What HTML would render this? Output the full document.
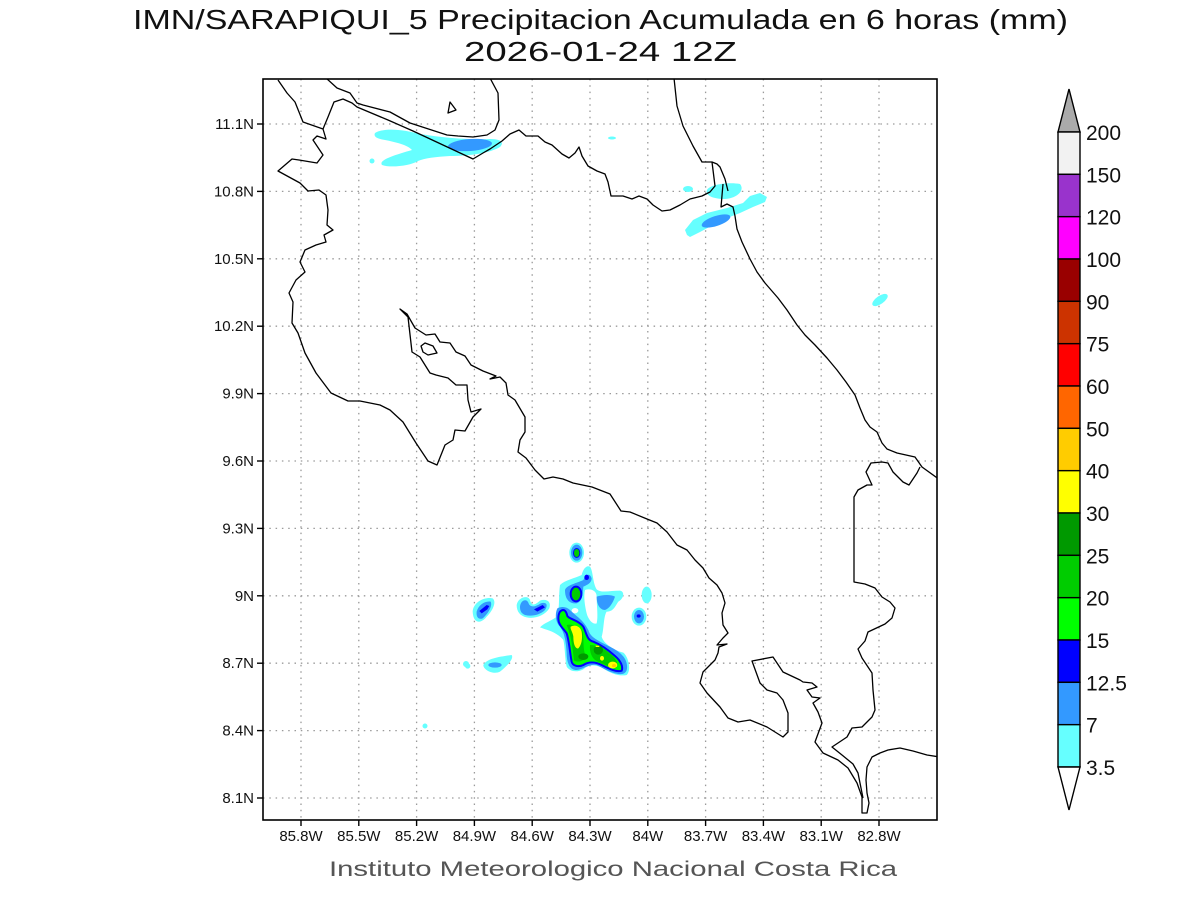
<!DOCTYPE html>
<html>
<head>
<meta charset="utf-8">
<style>
html,body{margin:0;padding:0;background:#fff;}
svg{display:block;}
text{font-family:"Liberation Sans",sans-serif;}
</style>
</head>
<body>
<svg width="1200" height="900" viewBox="0 0 1200 900" xmlns="http://www.w3.org/2000/svg">
<rect x="0" y="0" width="1200" height="900" fill="#fff"/>

<!-- Title -->
<text x="133" y="29" font-size="28" fill="#111" textLength="935" lengthAdjust="spacingAndGlyphs">IMN/SARAPIQUI_5 Precipitacion Acumulada en 6 horas (mm)</text>
<text x="464" y="61" font-size="28" fill="#111" textLength="273" lengthAdjust="spacingAndGlyphs">2026-01-24 12Z</text>

<defs>
<clipPath id="plot"><rect x="263" y="79" width="674" height="741"/></clipPath>
</defs>

<g clip-path="url(#plot)">
<!-- grid -->
<g stroke="#9a9a9a" stroke-width="1.3" stroke-dasharray="1.5 4.8" fill="none">
<line x1="263" y1="124" x2="937" y2="124"/>
<line x1="263" y1="191.4" x2="937" y2="191.4"/>
<line x1="263" y1="258.8" x2="937" y2="258.8"/>
<line x1="263" y1="326.2" x2="937" y2="326.2"/>
<line x1="263" y1="393.6" x2="937" y2="393.6"/>
<line x1="263" y1="461" x2="937" y2="461"/>
<line x1="263" y1="528.4" x2="937" y2="528.4"/>
<line x1="263" y1="595.8" x2="937" y2="595.8"/>
<line x1="263" y1="663.2" x2="937" y2="663.2"/>
<line x1="263" y1="730.6" x2="937" y2="730.6"/>
<line x1="263" y1="798" x2="937" y2="798"/>
<line x1="301" y1="79" x2="301" y2="820"/>
<line x1="358.8" y1="79" x2="358.8" y2="820"/>
<line x1="416.6" y1="79" x2="416.6" y2="820"/>
<line x1="474.4" y1="79" x2="474.4" y2="820"/>
<line x1="532.2" y1="79" x2="532.2" y2="820"/>
<line x1="590" y1="79" x2="590" y2="820"/>
<line x1="647.8" y1="79" x2="647.8" y2="820"/>
<line x1="705.6" y1="79" x2="705.6" y2="820"/>
<line x1="763.4" y1="79" x2="763.4" y2="820"/>
<line x1="821.2" y1="79" x2="821.2" y2="820"/>
<line x1="879" y1="79" x2="879" y2="820"/>
</g>

<!-- North precipitation -->
<path d="M375,133 C385,127 405,130 420,134 C445,138 470,140 490,139 C500,139 505,142 500,147 C490,153 470,156 450,156 C435,157 425,158 418,161 C410,166 390,168 382,165 C378,160 395,155 412,150 C408,145 395,142 385,140 C378,139 373,137 375,133 Z" fill="#66ffff"/>
<ellipse cx="470" cy="145" rx="22" ry="6" transform="rotate(-4 470 145)" fill="#3399ff"/>
<circle cx="372" cy="161" r="2.5" fill="#66ffff"/>
<ellipse cx="612" cy="138" rx="4" ry="1.5" fill="#66ffff"/>

<!-- NE precipitation -->
<ellipse cx="688" cy="189" rx="5" ry="3" fill="#66ffff"/>
<path d="M707,190 C710,184 730,182 740,184 C745,190 738,198 725,199 C712,199 705,195 707,190 Z" fill="#66ffff"/>
<path d="M687,235 L685,230 L693,220 L707,213 L727,208 L743,203 L750,196 L760,193 L767,197 L765,202 L753,207 L740,213 L727,218 L713,225 L700,232 L690,237 Z" fill="#66ffff"/>
<ellipse cx="716" cy="221" rx="15" ry="5" transform="rotate(-18 716 221)" fill="#3399ff"/>
<ellipse cx="880" cy="300" rx="9" ry="4" transform="rotate(-35 880 300)" fill="#66ffff"/>

<!-- scattered dots -->
<circle cx="466" cy="664" r="3" fill="#66ffff"/>
<circle cx="425" cy="726" r="2.5" fill="#66ffff"/>

<!-- Central cluster (in zoom coordinates) -->
<g transform="translate(450,530) scale(0.33333)">
  <!-- L1 -->
  <path d="M68,245 C70,215 105,200 128,205 C140,215 130,240 110,260 C95,280 70,285 68,245 Z" fill="#66ffff"/>
  <path d="M80,245 C85,225 105,212 122,215 C128,228 115,250 98,265 C85,270 78,260 80,245 Z" fill="#3399ff"/>
  <path d="M88,243 L110,225 L118,228 L112,238 L95,250 Z" fill="#0000ff"/>
  <!-- L2 -->
  <path d="M200,225 C205,200 235,195 240,210 C245,230 255,225 270,212 C290,205 305,215 298,235 C285,255 255,268 230,262 C210,258 200,245 200,225 Z" fill="#66ffff"/>
  <path d="M210,230 C212,210 230,205 235,218 C240,235 258,230 272,220 C290,215 295,225 285,240 C270,255 245,260 225,255 C212,250 210,240 210,230 Z" fill="#3399ff"/>
  <path d="M252,238 L278,225 L285,232 L262,245 Z" fill="#0000ff"/>
  <!-- bottom-left -->
  <path d="M100,405 C110,385 150,380 185,375 C192,385 175,405 150,425 C130,435 100,420 100,405 Z" fill="#66ffff"/>
  <ellipse cx="135" cy="405" rx="20" ry="8" fill="#3399ff"/>
  <circle cx="53" cy="408" r="8" fill="#66ffff"/>
  <!-- right -->
  <ellipse cx="590" cy="195" rx="15" ry="25" fill="#66ffff"/>
  <ellipse cx="567" cy="260" rx="22" ry="27" fill="#66ffff"/>
  <ellipse cx="567" cy="260" rx="15" ry="20" fill="#3399ff"/>
  <ellipse cx="566" cy="258" rx="6" ry="5" fill="#0000ff"/>
  <!-- top A -->
  <ellipse cx="380" cy="68" rx="22" ry="30" fill="#66ffff"/>
  <ellipse cx="380" cy="68" rx="17" ry="24" fill="#3399ff"/>
  <ellipse cx="380" cy="69" rx="11" ry="15" fill="#0000ff"/>
  <ellipse cx="380" cy="69" rx="8" ry="12" fill="#00cc00"/>
  <!-- main cyan -->
  <path d="M330,165 C345,150 375,145 395,135 C400,115 410,105 420,110 C430,125 428,160 440,178 C455,190 480,182 510,182 C525,185 522,205 505,215 C495,230 490,245 470,245 C460,260 462,300 455,320 C460,340 490,360 520,368 C535,380 545,420 530,435 C510,440 480,430 460,415 C440,405 420,400 400,418 C380,428 360,425 350,410 C345,390 345,350 340,330 C320,305 290,300 270,292 C280,280 310,270 320,260 C330,240 325,200 330,165 Z" fill="#66ffff"/>
  <path d="M405,180 C420,175 440,180 440,200 C440,230 445,260 440,280 C430,285 415,270 410,250 C405,230 400,200 405,180 Z" fill="#ffffff"/>
  <ellipse cx="375" cy="242" rx="10" ry="8" fill="#ffffff"/>
  <!-- blue -->
  <path d="M345,180 C350,165 380,160 400,150 C410,130 420,130 425,145 C425,160 410,165 400,170 C398,200 395,215 380,220 C360,222 345,210 345,180 Z" fill="#3399ff"/>
  <path d="M440,200 C455,195 480,192 495,200 C490,215 480,235 465,240 C450,240 440,225 440,200 Z" fill="#3399ff"/>
  <path d="M322,235 C335,228 350,230 360,240 C380,260 400,270 415,300 C420,320 440,330 470,345 C500,360 525,375 530,400 C535,425 525,435 505,432 C480,428 460,415 440,405 C420,400 400,418 380,420 C360,420 350,400 350,370 C348,340 345,310 330,290 C315,275 315,250 322,235 Z" fill="#3399ff"/>
  <ellipse cx="410" cy="142" rx="7" ry="8" fill="#0000ff"/>
  <!-- green -->
  <ellipse cx="378" cy="192" rx="16" ry="22" fill="#00cc00" stroke="#0000ff" stroke-width="6"/>
  <path d="M330,245 C340,235 348,240 352,258 C358,268 385,270 400,290 C410,310 410,330 430,335 C455,345 475,360 495,378 C512,392 520,410 515,422 C500,428 475,415 455,405 C435,395 415,395 400,405 C385,412 368,408 365,395 C360,370 358,335 350,310 C340,295 325,285 325,265 C325,255 327,250 330,245 Z" fill="#00ff00" stroke="#0000ff" stroke-width="6"/>
  <path d="M350,285 C365,280 390,290 398,305 C402,330 398,360 408,380 C400,395 385,398 372,392 C368,360 365,320 350,285 Z" fill="#00cc00"/>
  <path d="M420,345 C445,345 470,360 490,380 C505,395 505,412 495,415 C475,410 455,400 440,393 C425,385 418,365 420,345 Z" fill="#00cc00"/>
  <ellipse cx="400" cy="380" rx="15" ry="10" fill="#009900"/>
  <ellipse cx="445" cy="360" rx="14" ry="14" fill="#009900"/>
  <!-- yellow -->
  <path d="M362,290 C375,282 392,290 395,305 C398,325 395,345 385,355 C375,358 370,340 370,320 C368,305 360,298 362,290 Z" fill="#ffff00"/>
  <ellipse cx="488" cy="405" rx="14" ry="10" fill="#ffff00"/>
  <ellipse cx="492" cy="407" rx="6" ry="5" fill="#ffcc00"/>
  <ellipse cx="456" cy="385" rx="6" ry="7" fill="#ffff00"/>
  <rect x="437" y="347" width="11" height="4" fill="#ffff00"/>
</g>

<!-- Coastlines -->
<g fill="none" stroke="#000" stroke-width="1.3" stroke-linejoin="round">
<path d="M278,80 L287,93 L295,102 L303,122 L323,129 L326,139 L317,136 L313,140 L323,155 L317,163 L299,160 L292,159 L278,171 L300,183 L308,191 L319,190 L326,195 L328,210 L327,225 L333,230 L324,235 L326,242 L316,245 L305,250 L300,262 L305,272 L296,280 L289,293 L293,302 L292,323 L298,333 L305,353 L316,373 L331,393 L348,401 L360,401 L380,405 L390,410 L403,422 L416,443 L428,461 L437,465 L445,445 L453,440 L455,430 L465,431 L473,417 L481,409 L471,412 L468,400 L467,385 L456,385 L448,378 L436,375 L430,373 L420,357 L412,352 L408,317 L400,309 L407,314 L415,328 L426,335 L435,334 L440,342 L450,343 L456,352 L465,356 L471,365 L483,371 L496,376 L490,379 L500,377 L506,383 L508,395 L515,400 L525,417 L525,432 L520,440 L518,452 L526,458 L535,470 L544,479 L553,477 L563,479 L573,483 L592,487 L610,494 L621,511 L630,512 L647,519 L657,523 L667,532 L677,545 L687,550 L695,560 L703,568 L709,578 L717,585 L722,593 L725,603 L722,613 L723,625 L728,633 L723,638 L717,645 L727,644 L719,647 L718,653 L715,660 L703,672 L700,683 L707,693 L720,707 L728,718 L738,722 L750,720 L767,727 L783,737 L788,732 L788,713 L783,700 L777,693 L767,690 L760,683 L752,661 L773,657 L783,672 L800,680 L803,682 L812,683 L817,687 L807,690 L812,697 L820,698 L813,703 L818,712 L822,723 L815,742 L823,753 L838,760 L848,768 L857,783 L862,797 L862,813 L867,813 L869,803 L867,793 L866,780 L867,767 L872,757 L880,753 L888,750 L900,748 L913,751 L927,755 L940,757"/>
<path d="M323,129 L328,117 L334,102 L343,99 L352,103 L357,107 L388,120 L413,131 L473,159 L483,153 L490,149 L502,141 L510,134 L519,130 L526,136 L538,136 L545,142 L552,145 L562,154 L569,158 L575,153 L579,147 L582,156 L588,166 L597,171 L605,174 L608,182 L611,196 L623,196 L632,199 L639,196 L647,199 L653,205 L662,211 L670,210 L680,205 L690,199 L702,196 L710,192 L715,186 L712,162"/>
<path d="M326,78 L337,88 L350,93 L357,103 L363,105 L390,112 L410,123 L447,135 L458,136 L473,137 L487,135 L495,130 L499,120 L498,93 L490,78"/>
<path d="M448,113 L450,102 L456,110 Z"/>
<path d="M421,346 L425,343 L433,346 L437,353 L428,355 L423,352 Z"/>
<path d="M674,78 L677,106 L683,126 L693,146 L702,162 L712,162 L717,164 L720,167 L725,179 L728,191"/>
<path d="M723,184 L721,207 L727,204 L733,207 L735,216 L737,229 L742,242 L750,259 L757,272 L765,283 L778,298 L787,310 L797,325 L805,335 L815,345 L827,358 L837,370 L846,382 L855,395 L860,408 L865,420 L870,427 L877,432 L882,443 L887,449 L897,453 L915,457 L922,467 L940,480"/>
<path d="M920,467 L917,473 L909,485 L903,482 L893,472 L888,463 L882,462 L871,463 L866,472 L872,485 L867,485 L858,490 L854,497 L854,582 L865,584 L875,588 L882,597 L890,602 L895,608 L892,618 L885,624 L868,632 L865,641 L858,649 L862,658 L868,667 L872,673 L873,690 L875,710 L872,717 L862,727 L852,728 L847,737 L832,747 L842,755 L853,764 L858,773 L863,798"/>
</g>
</g>

<!-- Frame -->
<rect x="263" y="79" width="674" height="741" fill="none" stroke="#000" stroke-width="1.6"/>

<!-- Ticks -->
<g stroke="#000" stroke-width="1.4">
<line x1="257" y1="124" x2="263" y2="124"/>
<line x1="257" y1="191.4" x2="263" y2="191.4"/>
<line x1="257" y1="258.8" x2="263" y2="258.8"/>
<line x1="257" y1="326.2" x2="263" y2="326.2"/>
<line x1="257" y1="393.6" x2="263" y2="393.6"/>
<line x1="257" y1="461" x2="263" y2="461"/>
<line x1="257" y1="528.4" x2="263" y2="528.4"/>
<line x1="257" y1="595.8" x2="263" y2="595.8"/>
<line x1="257" y1="663.2" x2="263" y2="663.2"/>
<line x1="257" y1="730.6" x2="263" y2="730.6"/>
<line x1="257" y1="798" x2="263" y2="798"/>
<line x1="301" y1="820" x2="301" y2="826"/>
<line x1="358.8" y1="820" x2="358.8" y2="826"/>
<line x1="416.6" y1="820" x2="416.6" y2="826"/>
<line x1="474.4" y1="820" x2="474.4" y2="826"/>
<line x1="532.2" y1="820" x2="532.2" y2="826"/>
<line x1="590" y1="820" x2="590" y2="826"/>
<line x1="647.8" y1="820" x2="647.8" y2="826"/>
<line x1="705.6" y1="820" x2="705.6" y2="826"/>
<line x1="763.4" y1="820" x2="763.4" y2="826"/>
<line x1="821.2" y1="820" x2="821.2" y2="826"/>
<line x1="879" y1="820" x2="879" y2="826"/>
</g>

<!-- Lat labels -->
<g font-size="15" fill="#111" text-anchor="end">
<text x="254" y="129">11.1N</text>
<text x="254" y="196.4">10.8N</text>
<text x="254" y="263.8">10.5N</text>
<text x="254" y="331.2">10.2N</text>
<text x="254" y="398.6">9.9N</text>
<text x="254" y="466">9.6N</text>
<text x="254" y="533.4">9.3N</text>
<text x="254" y="600.8">9N</text>
<text x="254" y="668.2">8.7N</text>
<text x="254" y="735.6">8.4N</text>
<text x="254" y="803">8.1N</text>
</g>
<!-- Lon labels -->
<g font-size="15" fill="#111" text-anchor="middle">
<text x="301" y="841">85.8W</text>
<text x="358.8" y="841">85.5W</text>
<text x="416.6" y="841">85.2W</text>
<text x="474.4" y="841">84.9W</text>
<text x="532.2" y="841">84.6W</text>
<text x="590" y="841">84.3W</text>
<text x="647.8" y="841">84W</text>
<text x="705.6" y="841">83.7W</text>
<text x="763.4" y="841">83.4W</text>
<text x="821.2" y="841">83.1W</text>
<text x="879" y="841">82.8W</text>
</g>

<!-- Bottom credit -->
<text x="329" y="876" font-size="21" fill="#555" textLength="568" lengthAdjust="spacingAndGlyphs">Instituto Meteorologico Nacional Costa Rica</text>

<!-- Colorbar -->
<g stroke="#000" stroke-width="1.4">
<polygon points="1058,132 1080,132 1069,89" fill="#aaaaaa"/>
<rect x="1058" y="132" width="22" height="42.33" fill="#f2f2f2"/>
<rect x="1058" y="174.33" width="22" height="42.33" fill="#9933cc"/>
<rect x="1058" y="216.67" width="22" height="42.33" fill="#ff00ff"/>
<rect x="1058" y="259" width="22" height="42.33" fill="#990000"/>
<rect x="1058" y="301.33" width="22" height="42.33" fill="#cc3300"/>
<rect x="1058" y="343.67" width="22" height="42.33" fill="#ff0000"/>
<rect x="1058" y="386" width="22" height="42.33" fill="#ff6600"/>
<rect x="1058" y="428.33" width="22" height="42.33" fill="#ffcc00"/>
<rect x="1058" y="470.67" width="22" height="42.33" fill="#ffff00"/>
<rect x="1058" y="513" width="22" height="42.33" fill="#009900"/>
<rect x="1058" y="555.33" width="22" height="42.33" fill="#00cc00"/>
<rect x="1058" y="597.67" width="22" height="42.33" fill="#00ff00"/>
<rect x="1058" y="640" width="22" height="42.33" fill="#0000ff"/>
<rect x="1058" y="682.33" width="22" height="42.33" fill="#3399ff"/>
<rect x="1058" y="724.67" width="22" height="42.33" fill="#66ffff"/>
<polygon points="1058,767 1080,767 1069,810" fill="#ffffff"/>
</g>
<g font-size="21" fill="#111">
<text x="1086" y="140">200</text>
<text x="1086" y="182.3">150</text>
<text x="1086" y="224.7">120</text>
<text x="1086" y="267">100</text>
<text x="1086" y="309.3">90</text>
<text x="1086" y="351.7">75</text>
<text x="1086" y="394">60</text>
<text x="1086" y="436.3">50</text>
<text x="1086" y="478.7">40</text>
<text x="1086" y="521">30</text>
<text x="1086" y="563.3">25</text>
<text x="1086" y="605.7">20</text>
<text x="1086" y="648">15</text>
<text x="1086" y="690.3">12.5</text>
<text x="1086" y="732.7">7</text>
<text x="1086" y="775">3.5</text>
</g>
</svg>
</body>
</html>
